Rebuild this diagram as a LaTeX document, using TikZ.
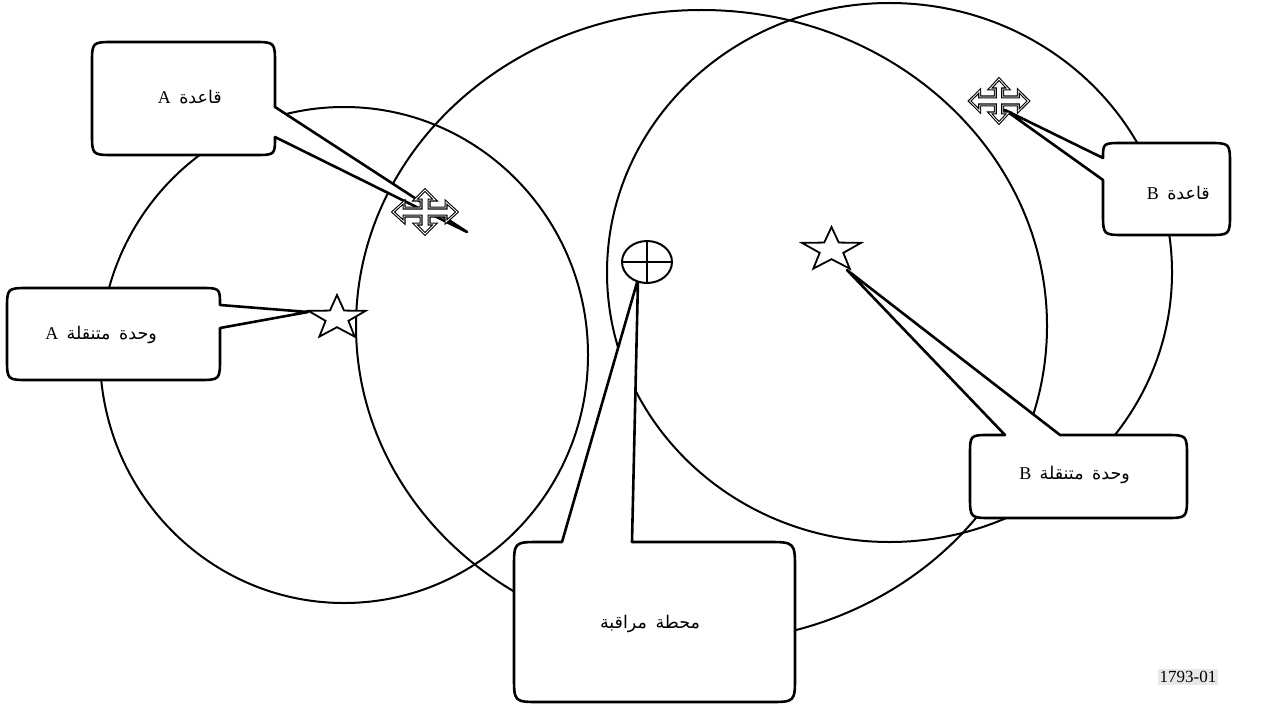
\documentclass[tikz,border=0pt]{standalone}
\usepackage{fontspec}
\setmainfont{Liberation Serif}
\newfontfamily\arabicfont[Script=Arabic]{DejaVu Sans}
\newfontfamily\latfont{Liberation Serif}
\TeXXeTstate=1
\newcommand\mvcross{%
  \draw[crossst] (32,0) -- (21,-10) -- (21,-4) -- (4,-4) -- (4,-12) -- (10,-12) -- (0,-22) -- (-10,-12) -- (-4,-12) -- (-4,-4) -- (-21,-4) -- (-21,-10) -- (-32,0) -- (-21,10) -- (-21,4) -- (-4,4) -- (-4,12) -- (-10,12) -- (0,22) -- (10,12) -- (4,12) -- (4,4) -- (21,4) -- (21,10) -- cycle;}
\newcommand\mystarpath{%
  \draw[starst] (270:1) -- (306:0.4) -- (342:1) -- (18:0.4) -- (54:1) -- (90:0.4) -- (126:1) -- (162:0.4) -- (198:1) -- (234:0.4) -- cycle;}
\newcommand\gap{\hspace{3pt}}
\begin{document}
\begin{tikzpicture}[x=1pt,y=-1pt,
  ring/.style={line width=2pt},
  callout/.style={draw, line width=2.6pt, fill=white, line join=round},
  crossst/.style={draw, fill=white, line width=1.1pt, double=white, double distance=0.8pt, line join=miter},
  starst/.style={draw, fill=white, line width=1.8pt, line join=miter},
  lbl/.style={font=\arabicfont\fontsize{17.5}{21}\selectfont, inner sep=0pt, anchor=base east},
  letter/.style={font=\latfont\fontsize{18}{20}\selectfont, inner sep=0pt, anchor=base east},
  ltr/.style={font=\latfont\fontsize{17}{19}\selectfont, inner sep=2pt}]
\useasboundingbox (0,0) rectangle (1265,706);
% circles
\draw[ring] (344,355) ellipse [x radius=244pt, y radius=248pt];
\draw[ring] (701.5,326) ellipse [x radius=345.5pt, y radius=316pt];
\draw[ring] (889.5,272.5) ellipse [x radius=282.5pt, y radius=269.5pt];
% tips
\coordinate (tipBaseA) at (467,232);
\coordinate (tipMobA) at (308,312);
\coordinate (tipBaseB) at (1005,110);
\coordinate (tipMobB) at (847,270);
\coordinate (tipMon) at (638,279);
% callout base A
\draw[callout] (114,42) -- (253,42) .. controls (275,42) .. (275,64) -- (275,107) -- (tipBaseA) -- (275,137) .. controls (275,155) .. (255,155) -- (114,155) .. controls (92,155) .. (92,133) -- (92,64) .. controls (92,42) .. (114,42) -- cycle;
% callout mobile A
\draw[callout] (29,288) -- (200,288) .. controls (220,288) .. (220,305) -- (tipMobA) -- (220,328) -- (220,358) .. controls (220,380) .. (198,380) -- (29,380) .. controls (7,380) .. (7,358) -- (7,310) .. controls (7,288) .. (29,288) -- cycle;
% callout base B
\draw[callout] (1123,143) -- (1208,143) .. controls (1230,143) .. (1230,165) -- (1230,213) .. controls (1230,235) .. (1208,235) -- (1125,235) .. controls (1103,235) .. (1103,213) -- (1103,180) -- (tipBaseB) -- (1103,158) .. controls (1103,143) .. (1123,143) -- cycle;
% callout mobile B
\draw[callout] (1005,435) -- (tipMobB) -- (1060,435) -- (1165,435) .. controls (1187,435) .. (1187,457) -- (1187,496) .. controls (1187,518) .. (1165,518) -- (992,518) .. controls (970,518) .. (970,496) -- (970,455) .. controls (970,435) .. (990,435) -- cycle;
% callout monitor
\draw[callout] (562,542) -- (tipMon) -- (632,542) -- (767,542) .. controls (795,542) .. (795,570) -- (795,676) .. controls (795,702) .. (769,702) -- (540,702) .. controls (514,702) .. (514,676) -- (514,568) .. controls (514,542) .. (540,542) -- cycle;
% symbols
\begin{scope}[shift={(425,212)}]\mvcross\end{scope}
\begin{scope}[shift={(999,101)}, xscale=0.92]\mvcross\end{scope}
\begin{scope}[shift={(337,318)}, xscale=30, yscale=23]\mystarpath\end{scope}
\begin{scope}[shift={(831.5,250)}, xscale=31, yscale=23]\mystarpath\end{scope}
\draw[line width=2pt, fill=white] (647,262) ellipse [x radius=25pt, y radius=21pt];
\draw[line width=2pt] (622,262) -- (672,262) (647,241) -- (647,283);
% labels
\node[lbl] (lBaseA) at (222,103) {\beginR قاعدة\endR};
\node[letter] (lBaseAl) at ([xshift=-8pt]lBaseA.base west) {A};
\node[lbl] (lMobA) at (157,339) {\beginR وحدة\gap{} متنقلة\endR};
\node[letter] (lMobAl) at ([xshift=-8pt]lMobA.base west) {A};
\node[lbl] (lBaseB) at (1210,199) {\beginR قاعدة\endR};
\node[letter] (lBaseBl) at ([xshift=-8pt]lBaseB.base west) {B};
\node[lbl] (lMobB) at (1130,479) {\beginR وحدة\gap{} متنقلة\endR};
\node[letter] (lMobBl) at ([xshift=-8pt]lMobB.base west) {B};
\node[lbl, anchor=base] (lMon) at (650,628) {\beginR محطة\gap{} مراقبة\endR};
\node[ltr, fill=black!9] (fig) at (1188,677) {1793-01};
\end{tikzpicture}
\end{document}
